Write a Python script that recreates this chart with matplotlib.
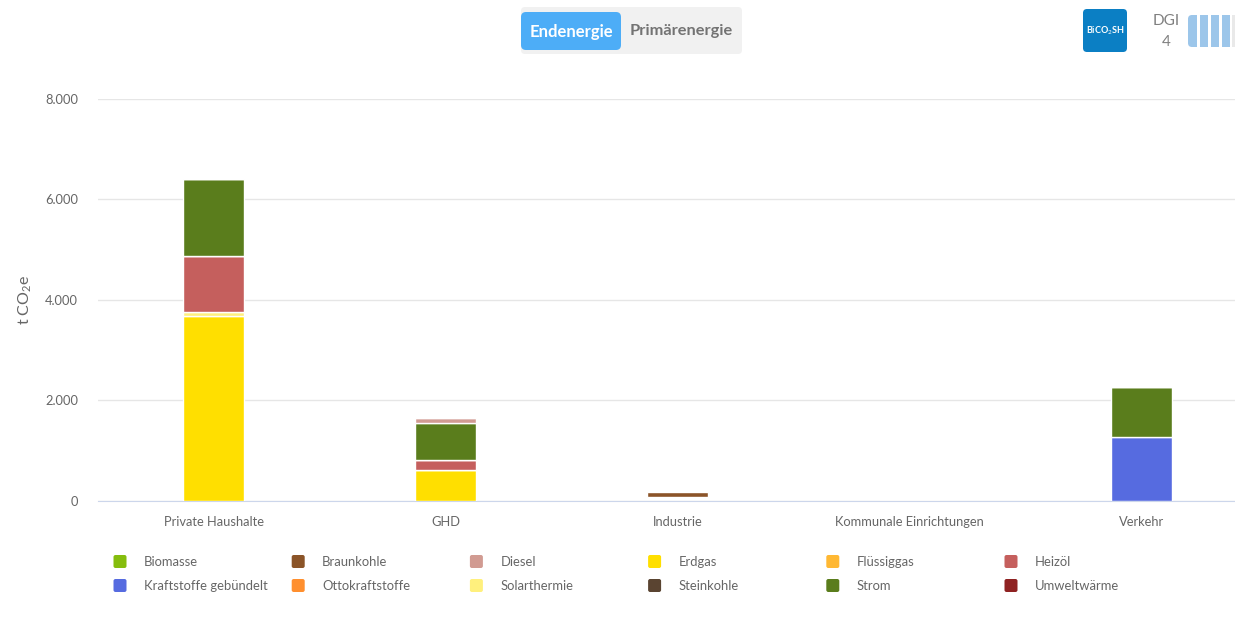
import matplotlib
matplotlib.use("Agg")
import matplotlib.pyplot as plt
from matplotlib.patches import FancyBboxPatch, Rectangle

plt.rcParams['font.family'] = ['Lato', 'DejaVu Sans']
plt.rcParams['mathtext.fontset'] = 'custom'
plt.rcParams['mathtext.rm'] = 'Lato'

W, H = 1235, 621

# Daten (t CO2e)
sektoren = ["Private Haushalte", "GHD", "Industrie", "Kommunale Einrichtungen", "Verkehr"]
erdgas = [3680, 610, 0, 0, 0]
solarthermie = [80, 0, 0, 0, 0]
heizoel = [1110, 200, 0, 0, 0]
kraftstoffe = [0, 0, 0, 0, 1270]
strom = [1530, 740, 0, 0, 990]
diesel = [0, 90, 0, 0, 0]
braunkohle = [0, 0, 90, 0, 0]
# Industrie: Luecke unter dem Balken wie im Original
sockel = [0, 0, 85, 0, 0]

y_ticks = [0, 2000, 4000, 6000, 8000]
y_labels = ["0", "2.000", "4.000", "6.000", "8.000"]

legende = ["Biomasse", "Braunkohle", "Diesel", "Erdgas", "Flüssiggas", "Heizöl",
           "Kraftstoffe gebündelt", "Ottokraftstoffe", "Solarthermie", "Steinkohle", "Strom", "Umweltwärme"]
farben = ["#85bd0d", "#8b5428", "#d19b92", "#ffdf00", "#ffb833", "#c55f5d",
          "#566be0", "#ff8f2e", "#fff07d", "#5a4431", "#5a7d1c", "#8f2222"]
farbe = dict(zip(legende, farben))

stapel = [("Erdgas", erdgas), ("Solarthermie", solarthermie), ("Heizöl", heizoel),
          ("Kraftstoffe gebündelt", kraftstoffe), ("Strom", strom), ("Diesel", diesel),
          ("Braunkohle", braunkohle)]

fig = plt.figure(figsize=(W / 100, H / 100), dpi=100)

# Plotbereich geht rechts ueber das Bild hinaus
x0, x1, y_top, y_bottom = 97.5, 1257.5, 98.5, 501
ax = fig.add_axes([x0 / W, 1 - y_bottom / H, (x1 - x0) / W, (y_bottom - y_top) / H])
ax.set_xlim(-0.5, 4.5)
ax.set_ylim(0, 8000)

basis = list(sockel)
for name, werte in stapel:
    ax.bar(range(5), werte, bottom=basis, width=0.26, color=farbe[name],
           edgecolor="white", linewidth=1, zorder=3)
    basis = [b + w for b, w in zip(basis, werte)]

ax.set_yticks(y_ticks, y_labels)
ax.set_xticks(range(5), sektoren)
ax.grid(axis="y", color="#e6e6e6", linewidth=1, zorder=0)
for s in ["top", "right", "left"]:
    ax.spines[s].set_visible(False)
ax.spines["bottom"].set_color("#ccd6eb")
ax.tick_params(axis="both", length=0, labelsize=9.3, labelcolor="#666666")
ax.tick_params(axis="x", pad=11)
ax.tick_params(axis="y", pad=14)
ax.set_ylabel(r"t CO$_2$e", fontsize=11.5, color="#666666", va="center")
ax.yaxis.set_label_coords((25 - x0) / (x1 - x0), 0.50)

# Overlay in Pixelkoordinaten fuer Buttons, Logo und Legende
ov = fig.add_axes([0, 0, 1, 1], facecolor="none")
ov.set_xlim(0, W)
ov.set_ylim(H, 0)
ov.axis("off")


def box(x, y, w, h, color, r=4):
    ov.add_patch(FancyBboxPatch((x + r, y + r), w - 2 * r, h - 2 * r,
                                boxstyle=f"round,pad={r},rounding_size={r}",
                                facecolor=color, edgecolor="none"))


box(521, 7, 221, 47, "#f1f1f1")
box(521, 12, 100, 38, "#4dadf7", r=5)
ov.text(571, 31.5, "Endenergie", color="white", fontsize=12, fontweight="bold", ha="center", va="center")
ov.text(681.5, 31.5, "Primärenergie", color="#737373", fontsize=11.8, fontweight="bold", ha="center", va="center")

box(1083, 9, 44, 43, "#0b7fc4", r=4)
ov.text(1105, 30.5, r"BiCO$_2$SH", color="white", fontsize=6.5, fontweight="bold", ha="center", va="center")
ov.text(1166, 21, "DGI", color="#808080", fontsize=11, ha="center", va="center")
ov.text(1166, 42, "4", color="#808080", fontsize=11, ha="center", va="center")

# DGI-Balken: erster links abgerundet, Rest eckig
box(1188, 15, 8, 32, "#9cc6ea", r=4)
ov.add_patch(Rectangle((1192, 15), 5, 32, facecolor="#9cc6ea", edgecolor="none"))
for bx, bc in [(1200, "#9cc6ea"), (1211, "#9cc6ea"), (1222, "#9cc6ea"), (1232, "#e9e9e9")]:
    ov.add_patch(Rectangle((bx, 15), 7.5, 32, facecolor=bc, edgecolor="none"))

# Legende
for i, name in enumerate(legende):
    spalte, zeile = i % 6, i // 6
    lx = 113.5 + spalte * 178.2
    ly = 561.5 + zeile * 24
    box(lx, ly - 6.5, 13, 13, farbe[name], r=2)
    ov.text(lx + 30.5, ly, name, color="#666666", fontsize=9.35, ha="left", va="center")

fig.savefig("out.png", dpi=100)
